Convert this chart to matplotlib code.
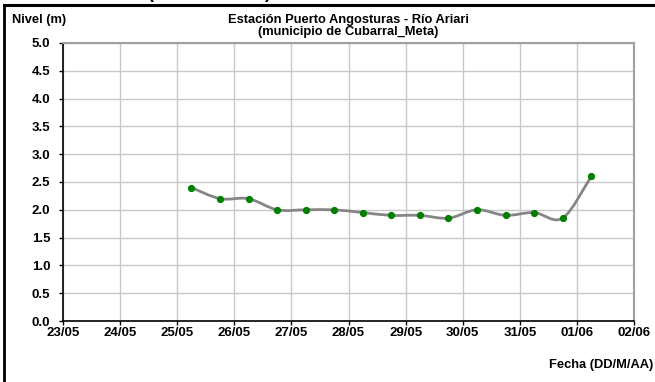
import datetime
import numpy as np
import matplotlib
matplotlib.use("Agg")
import matplotlib.pyplot as plt
import matplotlib.dates as mdates
from matplotlib.path import Path
from matplotlib.patches import PathPatch
from matplotlib.lines import Line2D

# level readings every 12 h (06:00 and 18:00)
fechas = ["2025-05-25 06:00", "2025-05-25 18:00", "2025-05-26 06:00", "2025-05-26 18:00",
          "2025-05-27 06:00", "2025-05-27 18:00", "2025-05-28 06:00", "2025-05-28 18:00",
          "2025-05-29 06:00", "2025-05-29 18:00", "2025-05-30 06:00", "2025-05-30 18:00",
          "2025-05-31 06:00", "2025-05-31 18:00", "2025-06-01 06:00"]
nivel = [2.4, 2.2, 2.2, 2.0, 2.0, 2.0, 1.95, 1.9, 1.9, 1.85, 2.0, 1.9, 1.95, 1.85, 2.6]

x_inicio = "2025-05-23"
x_fin = "2025-06-02"
y_ticks = [0.0, 0.5, 1.0, 1.5, 2.0, 2.5, 3.0, 3.5, 4.0, 4.5, 5.0]

plt.rcParams['font.family'] = ['Liberation Sans', 'DejaVu Sans']
plt.rcParams['font.weight'] = 'bold'

W, H = 655, 382
fig = plt.figure(figsize=(W / 100, H / 100), dpi=100)
fig.patch.set_facecolor('white')
ax = fig.add_axes([63 / W, 1 - 321 / H, (634 - 63) / W, (321 - 43) / H])

t = [datetime.datetime.strptime(f, "%Y-%m-%d %H:%M") for f in fechas]
xs = mdates.date2num(t)
ys = np.array(nivel)

# smoothed line like a spreadsheet "smooth line" (cubic bezier through the points)
px = np.concatenate([[xs[0]], xs, [xs[-1]]])
py = np.concatenate([[ys[0]], ys, [ys[-1]]])
verts = [(xs[0], ys[0])]
codes = [Path.MOVETO]
for i in range(1, len(px) - 2):
    c1 = (px[i] + (px[i + 1] - px[i - 1]) / 6, py[i] + (py[i + 1] - py[i - 1]) / 6)
    c2 = (px[i + 1] - (px[i + 2] - px[i]) / 6, py[i + 1] - (py[i + 2] - py[i]) / 6)
    verts += [c1, c2, (px[i + 1], py[i + 1])]
    codes += [Path.CURVE4] * 3
ax.add_patch(PathPatch(Path(verts, codes), facecolor='none', edgecolor='#868686', lw=2, zorder=3))
ax.plot(t, nivel, linestyle='none', marker='o', markersize=4.2, color='#008000', zorder=4)

x0 = datetime.datetime.strptime(x_inicio, "%Y-%m-%d")
x1 = datetime.datetime.strptime(x_fin, "%Y-%m-%d")
ax.set_xlim(x0, x1)
ax.set_ylim(0, 5)
ax.xaxis.set_major_locator(mdates.DayLocator())
ax.xaxis.set_major_formatter(mdates.DateFormatter("%d/%m"))
ax.set_yticks(y_ticks)
ax.set_yticklabels([f"{v:.1f}" for v in y_ticks])

ax.grid(True, color='#c8c8c8', linewidth=1)
ax.set_axisbelow(True)
for s in ['left', 'bottom']:
    ax.spines[s].set_color('black')
    ax.spines[s].set_linewidth(1.2)
for s in ['top', 'right']:
    ax.spines[s].set_color('#a0a0a0')
    ax.spines[s].set_linewidth(1.5)
ax.tick_params(axis='both', direction='out', length=3, width=1, labelsize=9.5)
ax.tick_params(axis='x', pad=1.5)
ax.tick_params(axis='y', pad=6)
for lab in ax.get_xticklabels() + ax.get_yticklabels():
    lab.set_fontweight('bold')

# titles and axis captions
xc = (63 + 634) / 2 / W
fig.text(xc, 1 - 20 / H, "Estación Puerto Angosturas - Río Ariari", ha='center', va='center',
         fontsize=9.3, fontweight='bold')
fig.text(xc, 1 - 32 / H, "(municipio de Cubarral_Meta)", ha='center', va='center',
         fontsize=9.3, fontweight='bold')
fig.text(12 / W, 1 - 20 / H, "Nivel (m)", ha='left', va='center', fontsize=9.3, fontweight='bold')
fig.text(653 / W, 1 - 365 / H, "Fecha (DD/M/AA)", ha='right', va='center', fontsize=9.3,
         fontweight='bold')

# brackets of the heading above the frame
fig.text(150 / W, 1 + 6 / H, "(", ha='center', va='center', fontsize=13, fontweight='bold')
fig.text(267 / W, 1 + 6 / H, ")", ha='center', va='center', fontsize=13, fontweight='bold')

# outer frame
fig.add_artist(Line2D([4 / W, 4 / W], [0, 1 - 5 / H], transform=fig.transFigure, color='black', lw=2))
fig.add_artist(Line2D([4 / W, 1], [1 - 5 / H, 1 - 5 / H], transform=fig.transFigure, color='black', lw=2.2))

fig.savefig("out.png", dpi=100)
